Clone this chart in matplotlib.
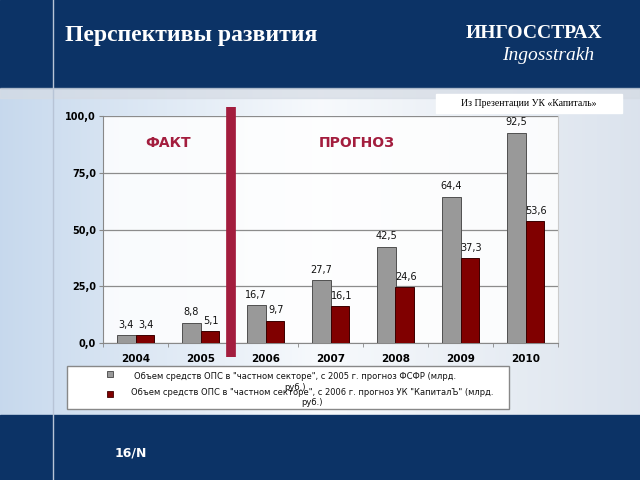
import numpy as np
import matplotlib.pyplot as plt
from matplotlib.patches import Rectangle

years = ['2004', '2005', '2006', '2007', '2008', '2009', '2010']
ffms = [3.4, 8.8, 16.7, 27.7, 42.5, 64.4, 92.5]
kapital = [3.4, 5.1, 9.7, 16.1, 24.6, 37.3, 53.6]
yticks = [0, 25, 50, 75, 100]
label1 = 'Объем средств ОПС в "частном секторе", с 2005 г. прогноз ФСФР (млрд.\nруб.)'
label2 = 'Объем средств ОПС в "частном секторе", с 2006 г. прогноз УК "КапиталЪ" (млрд.\nруб.)'

navy = '#0c3366'
grey_bar = '#999999'
red_bar = '#800000'
crimson = '#a31d3e'

fig = plt.figure(figsize=(6.4, 4.8), dpi=100)

# slide background in pixel coordinates
bg = fig.add_axes([0, 0, 1, 1])
bg.set_xlim(0, 640); bg.set_ylim(480, 0); bg.axis('off')
grad = np.linspace(0, 1, 256)
img = np.zeros((2, 256, 3))
left = np.array([0.78, 0.85, 0.93]); mid = np.array([0.97, 0.98, 0.99]); right = np.array([0.86, 0.89, 0.93])
for i, t in enumerate(grad):
    if t < 0.5:
        c = left + (mid - left) * (t / 0.5)
    else:
        c = mid + (right - mid) * ((t - 0.5) / 0.5)
    img[:, i] = c
bg.imshow(img, extent=[0, 640, 415, 88], aspect='auto')
bg.add_patch(Rectangle((0, 0), 640, 88, color=navy))
bg.add_patch(Rectangle((0, 415), 640, 65, color=navy))
bg.add_patch(Rectangle((0, 88), 640, 10, color='#d5dbe4', alpha=0.7))
bg.plot([53, 53], [0, 480], color='#b8c4d6', lw=1)
bg.text(65, 35, 'Перспективы развития', color='white', fontsize=17, fontweight='bold',
        family='Liberation Serif', va='center', ha='left')
bg.text(534, 33, 'ИНГОССТРАХ', color='white', fontsize=14, fontweight='bold',
        family='Liberation Serif', va='center', ha='center')
bg.text(548, 55, 'Ingosstrakh', color='white', fontsize=14, style='italic',
        family='Liberation Serif', va='center', ha='center')
bg.text(115, 453, '16/N', color='white', fontsize=9, fontweight='bold', va='center', ha='left')
bg.add_patch(Rectangle((436, 94), 186, 19, color='white'))
bg.text(529, 103.5, 'Из Презентации УК «Капиталь»', color='black', fontsize=7,
        family='Liberation Serif', va='center', ha='center')

# legend box
bg.add_patch(Rectangle((67, 366), 442, 43, facecolor='white', edgecolor='#888888', lw=1))
bg.add_patch(Rectangle((107, 371), 6, 6, facecolor=grey_bar, edgecolor='#444444', lw=0.6))
bg.add_patch(Rectangle((107, 391), 6, 6, facecolor=red_bar, edgecolor='#400000', lw=0.6))
bg.text(295, 382, label1, fontsize=6, ha='center', va='center', multialignment='center', color='#111111')
bg.text(312, 397.5, label2, fontsize=6, ha='center', va='center', multialignment='center', color='#111111')

# chart
ax = fig.add_axes([103 / 640, 1 - 343 / 480, 455 / 640, 227 / 480])
ax.set_facecolor((1, 1, 1, 0.85))
x = np.arange(len(years))
w = 0.29
b1 = ax.bar(x - w / 2, ffms, w, color=grey_bar, edgecolor='#505050', lw=0.7, zorder=3)
b2 = ax.bar(x + w / 2, kapital, w, color=red_bar, edgecolor='#3a0000', lw=0.7, zorder=3)
for xi, v in zip(x, ffms):
    ax.annotate(f'{v:.1f}'.replace('.', ','), (xi - w / 2, v), xytext=(0, 4), textcoords='offset points',
                ha='center', va='bottom', fontsize=7, color='#111111')
for xi, v in zip(x, kapital):
    ax.annotate(f'{v:.1f}'.replace('.', ','), (xi + w / 2, v), xytext=(1, 4), textcoords='offset points',
                ha='center', va='bottom', fontsize=7, color='#111111')

ax.set_xlim(-0.5, len(years) - 0.5)
ax.set_ylim(0, 100)
ax.set_yticks(yticks)
ax.set_yticklabels([f'{v:.1f}'.replace('.', ',') for v in yticks], fontsize=7, fontweight='bold')
ax.set_xticks(x)
ax.set_xticklabels(years, fontsize=7.5, fontweight='bold')
ax.set_xticks(np.arange(-0.5, len(years), 1), minor=True)
ax.tick_params(axis='x', which='major', length=0, pad=8)
ax.tick_params(axis='x', which='minor', length=3, color='#888888')
ax.tick_params(axis='y', length=3, color='#888888', pad=2)
ax.grid(axis='y', color='#8c8c8c', lw=0.9, zorder=1)
ax.spines['top'].set_visible(False)
ax.spines['left'].set_color('#888888')
ax.spines['bottom'].set_color('#888888')
ax.spines['right'].set_color('#cccccc')

ax.plot([1.47, 1.47], [-6.2, 104], color=crimson, lw=7, clip_on=False, zorder=5, solid_capstyle='butt')
ax.text(0.5, 88, 'ФАКТ', color=crimson, fontsize=10, fontweight='bold', ha='center', va='center')
ax.text(3.4, 88, 'ПРОГНОЗ', color=crimson, fontsize=10, fontweight='bold', ha='center', va='center')

plt.savefig('out.png', dpi=100)
